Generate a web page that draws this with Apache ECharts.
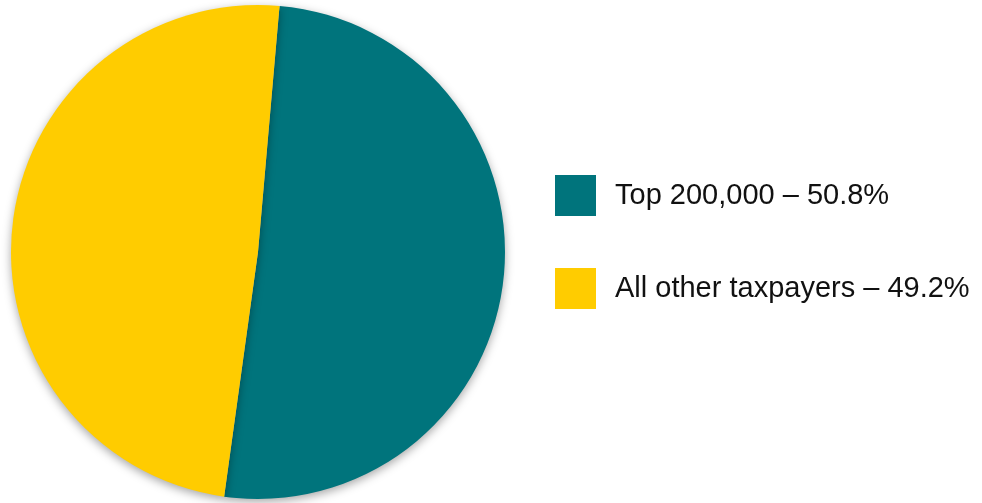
<!DOCTYPE html>
<html>
<head>
<meta charset="utf-8">
<script src="https://cdn.jsdelivr.net/npm/echarts@6/dist/echarts.min.js"></script>
<style>
  html, body { margin: 0; padding: 0; background: #ffffff; }
  #chart { width: 982px; height: 503px; }
</style>
</head>
<body>
<div id="chart"></div>
<script>
// Share of taxes paid by group
const categories = ['Top 200,000', 'All other taxpayers'];
const shares = [50.8, 49.2];
const colors = ['#00747C', '#FFCC00'];

const chart = echarts.init(document.getElementById('chart'));

chart.setOption({
  backgroundColor: '#ffffff',
  animation: false,
  legend: {
    orient: 'vertical',
    left: 550,
    top: 170,
    itemWidth: 41,
    itemHeight: 41,
    itemGap: 52,
    icon: 'rect',
    textStyle: {
      fontFamily: 'Liberation Sans, Arial, sans-serif',
      fontSize: 29,
      color: '#111111',
      padding: [0, 0, 0, 14]
    },
    formatter: function (name) {
      const i = categories.indexOf(name);
      return name + ' \u2013 ' + shares[i].toFixed(1) + '%';
    },
    data: categories
  },
  series: [{
    type: 'pie',
    center: [258, 252],
    radius: 247,
    startAngle: 85,
    clockwise: true,
    label: { show: false },
    labelLine: { show: false },
    emphasis: { disabled: true },
    itemStyle: {
      borderWidth: 0,
      shadowBlur: 10,
      shadowColor: 'rgba(0,0,0,0.35)',
      shadowOffsetX: 0,
      shadowOffsetY: 3
    },
    data: categories.map((c, i) => ({
      name: c,
      value: shares[i],
      itemStyle: { color: colors[i] }
    }))
  }]
});
</script>
</body>
</html>
